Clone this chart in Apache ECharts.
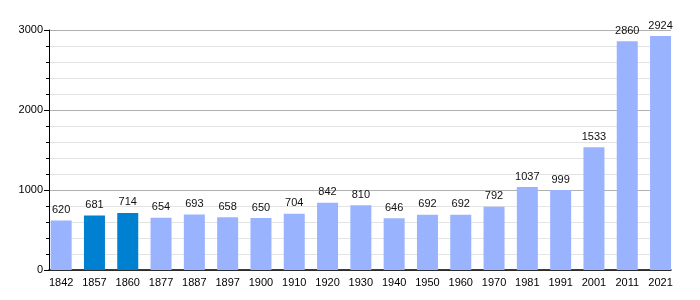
<!DOCTYPE html>
<html><head><meta charset="utf-8">
<script src="https://cdn.jsdelivr.net/npm/echarts@6/dist/echarts.min.js"></script>
<style>html,body{margin:0;padding:0;background:#fff}#c{width:700px;height:300px}</style>
</head><body><div id="c"></div>
<script>
const years = ['1842','1857','1860','1877','1887','1897','1900','1910','1920','1930','1940','1950','1960','1970','1981','1991','2001','2011','2021'];
const population = [620,681,714,654,693,658,650,704,842,810,646,692,692,792,1037,999,1533,2860,2924];
const highlighted = ['1857','1860'];
const lightColor = '#99b3ff';
const darkColor = '#0080d0';
const font = 'Liberation Sans, Arial, sans-serif';

const chart = echarts.init(document.getElementById('c'), null, {renderer:'canvas'});
chart.setOption({
  animation:false,
  grid:[
    {left:49, top:30, width:622, height:240},
    {left:44.5, top:30, width:632.7, height:240}
  ],
  xAxis:[
    {gridIndex:0, type:'value', min:0, max:1, show:true,
     axisLine:{show:true, lineStyle:{color:'#000', width:1.5}},
     axisTick:{show:false}, axisLabel:{show:false}, splitLine:{show:false}},
    {gridIndex:1, type:'category', data:years,
     axisLine:{show:false}, axisTick:{show:false},
     axisLabel:{color:'#000', fontSize:11, fontFamily:font, margin:7, interval:0}}
  ],
  yAxis:[
    {gridIndex:0, type:'value', min:0, max:3000, interval:1000,
     axisLine:{show:true, lineStyle:{color:'#000', width:1}},
     axisTick:{show:true, length:5, lineStyle:{color:'#000'}},
     minorTick:{show:true, splitNumber:5, length:3, lineStyle:{color:'#000'}},
     axisLabel:{color:'#000', fontSize:11, fontFamily:font, margin:6, formatter:v=>String(v)},
     splitLine:{show:true, lineStyle:{color:'#b0b0b0', width:1}},
     minorSplitLine:{show:true, lineStyle:{color:'#e3e3e3', width:1}}},
    {gridIndex:1, type:'value', min:0, max:3000, show:false, splitLine:{show:false}}
  ],
  series:[{
    type:'bar', xAxisIndex:1, yAxisIndex:1,
    barWidth:21,
    data: population.map((v,i)=>({value:v, itemStyle:{color: highlighted.includes(years[i]) ? darkColor : lightColor}})),
    label:{show:true, position:'top', distance:5, color:'#111', fontSize:11, fontFamily:font}
  }]
});
</script></body></html>
